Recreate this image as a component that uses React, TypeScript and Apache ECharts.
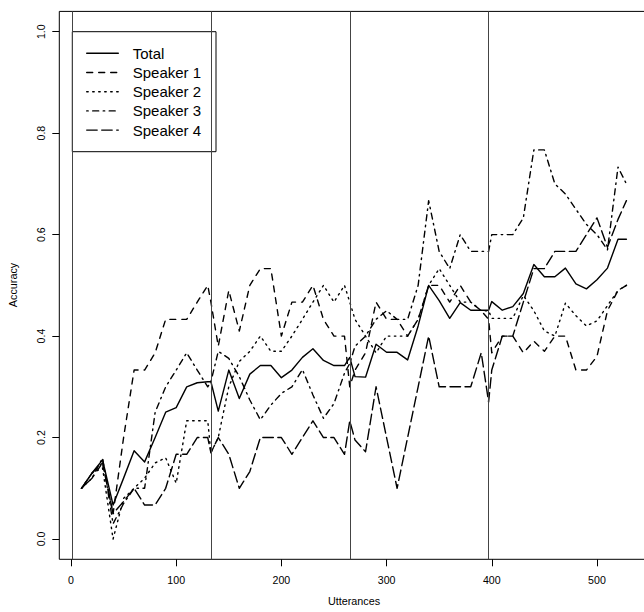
import React, { useEffect, useRef } from "react";
import * as echarts from "echarts";

const utterances = [10,20,30,40,50,60,70,80,90,100,110,120,130,133,140,150,160,170,180,190,200,210,220,230,240,250,260,265,270,280,290,300,310,320,330,340,350,360,370,380,390,397,400,410,420,430,440,450,460,470,480,490,500,510,520,528];

const total = [0.10,0.13,0.156,0.067,0.12,0.174,0.152,0.20,0.25,0.259,0.30,0.308,0.31,0.31,0.252,0.333,0.277,0.325,0.342,0.342,0.318,0.333,0.358,0.375,0.352,0.342,0.342,0.358,0.32,0.319,0.384,0.368,0.368,0.353,0.42,0.50,0.47,0.435,0.466,0.451,0.451,0.451,0.468,0.451,0.458,0.484,0.541,0.517,0.517,0.534,0.503,0.493,0.511,0.534,0.591,0.591];

const speaker1 = [0.1,0.12,0.15,0.05,0.2,0.333,0.333,0.367,0.433,0.433,0.433,0.467,0.50,0.467,0.38,0.49,0.41,0.5,0.533,0.533,0.40,0.467,0.467,0.50,0.433,0.40,0.40,0.30,0.333,0.367,0.467,0.433,0.433,0.40,0.433,0.50,0.50,0.467,0.50,0.467,0.45,0.433,0.367,0.40,0.40,0.367,0.39,0.37,0.40,0.40,0.333,0.333,0.36,0.45,0.49,0.50];

const speaker2 = [0.1,0.13,0.14,0.0,0.08,0.1,0.12,0.15,0.16,0.11,0.233,0.233,0.233,0.17,0.2,0.3,0.35,0.37,0.40,0.37,0.37,0.40,0.433,0.467,0.50,0.467,0.50,0.467,0.433,0.40,0.367,0.40,0.40,0.40,0.433,0.50,0.533,0.50,0.467,0.467,0.45,0.45,0.435,0.435,0.435,0.48,0.45,0.41,0.40,0.465,0.44,0.42,0.43,0.46,0.49,0.50];

const speaker3 = [0.1,0.12,0.16,0.03,0.07,0.1,0.1,0.25,0.3,0.333,0.367,0.333,0.30,0.31,0.37,0.356,0.32,0.274,0.235,0.264,0.287,0.30,0.334,0.284,0.238,0.267,0.327,0.346,0.38,0.40,0.433,0.45,0.433,0.433,0.50,0.667,0.567,0.533,0.60,0.567,0.567,0.567,0.60,0.60,0.60,0.633,0.767,0.767,0.70,0.68,0.65,0.62,0.60,0.57,0.733,0.70];

const speaker4 = [0.1,0.13,0.15,0.05,0.074,0.1,0.067,0.067,0.1,0.167,0.167,0.2,0.2,0.17,0.2,0.167,0.1,0.133,0.2,0.2,0.2,0.167,0.2,0.233,0.2,0.2,0.167,0.233,0.195,0.172,0.30,0.2,0.1,0.2,0.3,0.40,0.30,0.30,0.30,0.30,0.367,0.27,0.333,0.40,0.40,0.467,0.533,0.533,0.567,0.567,0.567,0.60,0.633,0.575,0.63,0.667];

const seriesNames = ["Total", "Speaker 1", "Speaker 2", "Speaker 3", "Speaker 4"];
const speakerStarts = [1, 133, 265, 397];
const xTicks = [0, 100, 200, 300, 400, 500];
const yTicks = [0, 0.2, 0.4, 0.6, 0.8, 1.0];

const FONT = "'Liberation Sans', Arial, Helvetica, sans-serif";
const dashes: any[] = ["solid", [6, 6], [1.5, 4.5], [1.5, 4.5, 6, 4.5], [10.5, 4.5]];

export default function App() {
  const ref = useRef<HTMLDivElement>(null);
  useEffect(() => {
    document.body.style.margin = "0";
    const chart = echarts.init(ref.current!, null, { renderer: "svg" });
    const all = [total, speaker1, speaker2, speaker3, speaker4];
    const series: any[] = all.map((vals, k) => ({
      name: seriesNames[k],
      type: "line",
      data: utterances.map((u, i) => [u, vals[i]]),
      showSymbol: false,
      symbol: "none",
      silent: true,
      lineStyle: { color: "#000", width: 1.4, type: dashes[k], cap: "round", join: "round" },
      z: 3,
    }));
    series[0].markLine = {
      silent: true,
      symbol: ["none", "none"],
      label: { show: false },
      lineStyle: { color: "#444", width: 1, type: "solid" },
      data: speakerStarts.map((s) => ({ xAxis: s })),
    };

    const legendRows = seriesNames.map((n, i) => {
      const y = 53.3 + 19.2 * i;
      return [
        {
          type: "line",
          shape: { x1: 86.7, y1: y, x2: 118.3, y2: y },
          style: { stroke: "#000", lineWidth: 1.4, lineDash: dashes[i] === "solid" ? null : dashes[i], lineCap: "round" },
        },
        {
          type: "text",
          x: 132.7,
          y,
          style: { text: n, font: `15px ${FONT}`, fill: "#000", textVerticalAlign: "middle", textAlign: "left" },
        },
      ];
    }).flat();

    chart.setOption({
      animation: false,
      backgroundColor: "#fff",
      grid: {
        left: 59.3, top: 11.4, width: 589, height: 547.9,
        show: true, borderColor: "#000", borderWidth: 1, backgroundColor: "transparent",
        outerBoundsMode: "none",
      },
      xAxis: {
        type: "value", min: -11.12, max: 548.8,
        axisLine: { show: false, onZero: false },
        splitLine: { show: false },
        axisTick: { show: true, customValues: xTicks, length: 7, lineStyle: { color: "#000", width: 1 } },
        axisLabel: { customValues: xTicks, margin: 15, fontSize: 10.6, fontFamily: FONT, color: "#000" },
      },
      yAxis: {
        type: "value", min: -0.04, max: 1.04,
        axisLine: { show: false, onZero: false },
        splitLine: { show: false },
        axisTick: { show: true, customValues: yTicks, length: 7, lineStyle: { color: "#000", width: 1 } },
        axisLabel: {
          customValues: yTicks, margin: 13, rotate: 90, fontSize: 10.6, fontFamily: FONT, color: "#000",
          formatter: (v: number) => v.toFixed(1),
        },
      },
      series,
      graphic: [
        {
          type: "rect",
          shape: { x: 72.3, y: 31.7, width: 143.7, height: 120 },
          style: { fill: "none", stroke: "#000", lineWidth: 1 },
        },
        ...legendRows,
        {
          type: "text", x: 354, y: 601,
          style: { text: "Utterances", font: `10.8px ${FONT}`, fill: "#000", textAlign: "center", textVerticalAlign: "middle" },
        },
        {
          type: "text", x: 13, y: 285, rotation: Math.PI / 2,
          style: { text: "Accuracy", font: `10.8px ${FONT}`, fill: "#000", textAlign: "center", textVerticalAlign: "middle" },
        },
      ],
    });
    return () => chart.dispose();
  }, []);
  return <div ref={ref} style={{ position: "fixed", left: 0, top: 0, width: 644, height: 612 }} />;
}
